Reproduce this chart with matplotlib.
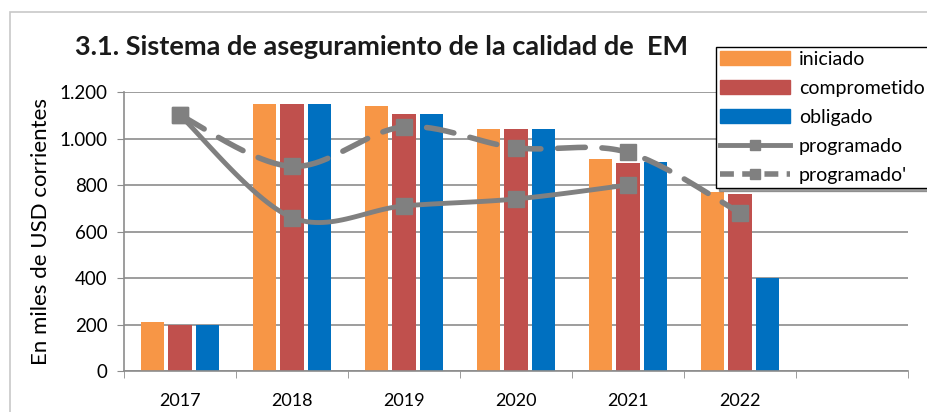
import matplotlib

matplotlib.use("Agg")
import matplotlib.pyplot as plt
import numpy as np
from matplotlib.lines import Line2D
from matplotlib.patches import Patch, Rectangle

plt.rcParams["font.family"] = ["Lato", "DejaVu Sans"]

# Datos
anios = ["2017", "2018", "2019", "2020", "2021", "2022", ""]
iniciado = [210, 1150, 1140, 1040, 910, 770]
comprometido = [200, 1150, 1105, 1040, 895, 760]
obligado = [200, 1150, 1105, 1040, 900, 400]
programado = [1100, 660, 710, 740, 800]
programado2 = [1100, 880, 1050, 960, 940, 680]

ORANGE = "#F79646"
RED = "#C0504D"
BLUE = "#0070C0"
GRAY = "#808080"
GRID = "#8c8c8c"


def suavizar(y, n=30):
    """Curva suavizada tipo Excel (Catmull-Rom) entre los puntos."""
    x = np.arange(len(y), dtype=float)
    p = np.column_stack([x, np.asarray(y, dtype=float)])
    p = np.vstack([p[0], p, p[-1]])
    out = []
    for i in range(1, len(p) - 2):
        p0, p1, p2, p3 = p[i - 1], p[i], p[i + 1], p[i + 2]
        t = np.linspace(0, 1, n)[:, None]
        c = 0.5 * ((2 * p1) + (-p0 + p2) * t
                   + (2 * p0 - 5 * p1 + 4 * p2 - p3) * t ** 2
                   + (-p0 + 3 * p1 - 3 * p2 + p3) * t ** 3)
        out.append(c)
    c = np.vstack(out)
    return c[:, 0], c[:, 1]


fig = plt.figure(figsize=(9.28, 4.12), dpi=100)
ax = fig.add_axes([124 / 928, 1 - 371 / 412, (908 - 124) / 928, (371 - 92) / 412])

# marco exterior del gráfico
fig.add_artist(Rectangle((10 / 928, -0.1), 1.0, 1 - 12 / 412 + 0.1,
                         transform=fig.transFigure, fill=False,
                         edgecolor="#c8c8c8", linewidth=1.2))

x = np.arange(len(anios))
w = 0.21
off = 0.245
ax.bar(x[:6] - off, iniciado, w, color=ORANGE, zorder=2)
ax.bar(x[:6], comprometido, w, color=RED, zorder=2)
ax.bar(x[:6] + off, obligado, w, color=BLUE, zorder=2)

sx, sy = suavizar(programado)
ax.plot(sx, sy, color=GRAY, linewidth=3.5, zorder=3, solid_capstyle="butt")
ax.plot(x[:len(programado)], programado, "s", color=GRAY, markersize=11, zorder=4)

sx2, sy2 = suavizar(programado2)
ax.plot(sx2, sy2, color=GRAY, linewidth=4, zorder=3,
        linestyle=(0, (5, 3)), dash_capstyle="round")
ax.plot(x[:len(programado2)], programado2, "s", color=GRAY, markersize=11, zorder=4)

ax.set_xlim(-0.5, len(anios) - 0.5)
ax.set_ylim(0, 1200)
ax.set_yticks(range(0, 1201, 200))
ax.set_yticklabels(["0", "200", "400", "600", "800", "1.000", "1.200"])
ax.set_xticks(x)
ax.set_xticklabels(anios)
ax.set_xticks(np.arange(-0.5, len(anios), 1.0), minor=True)
ax.tick_params(axis="x", which="major", length=0, labelsize=13, pad=16)
ax.tick_params(axis="x", which="minor", length=5, color=GRID, direction="out")
ax.tick_params(axis="y", length=5, color=GRID, labelsize=13.5, direction="out",
               pad=7)
ax.grid(axis="y", color=GRID, linewidth=1.2, zorder=0)
ax.set_axisbelow(True)
for s in ["top", "right"]:
    ax.spines[s].set_visible(False)
ax.spines["left"].set_color(GRID)
ax.spines["bottom"].set_color(GRID)
ax.spines["left"].set_linewidth(1.2)
ax.spines["bottom"].set_linewidth(1.2)

ax.set_ylabel("En miles de USD corrientes", fontsize=16, labelpad=6)

fig.text(75 / 928, 1 - 47 / 412, "3.1. Sistema de aseguramiento de la calidad de  EM",
         fontsize=19.5, fontweight="bold", va="center", ha="left", color="#1a1a1a")

handles = [
    Patch(color=ORANGE), Patch(color=RED), Patch(color=BLUE),
    Line2D([], [], color=GRAY, linewidth=3.5, marker="s", markersize=7),
    Line2D([], [], color=GRAY, linewidth=4, linestyle=(0, (2.5, 1.5)),
           marker="s", markersize=7),
]
labels = ["iniciado", "comprometido", "obligado", "programado", "programado'"]
leg = fig.legend(handles, labels, loc="upper left",
                 bbox_to_anchor=(716 / 928, 1 - 47 / 412),
                 bbox_transform=fig.transFigure, fontsize=14,
                 frameon=True, fancybox=False, shadow=True, framealpha=1,
                 edgecolor="black", handlelength=3.6, handletextpad=0.45,
                 labelspacing=0.62, borderpad=0.2, borderaxespad=0)
leg.get_frame().set_linewidth(1.0)

fig.savefig("out.png", dpi=100, facecolor="white")
